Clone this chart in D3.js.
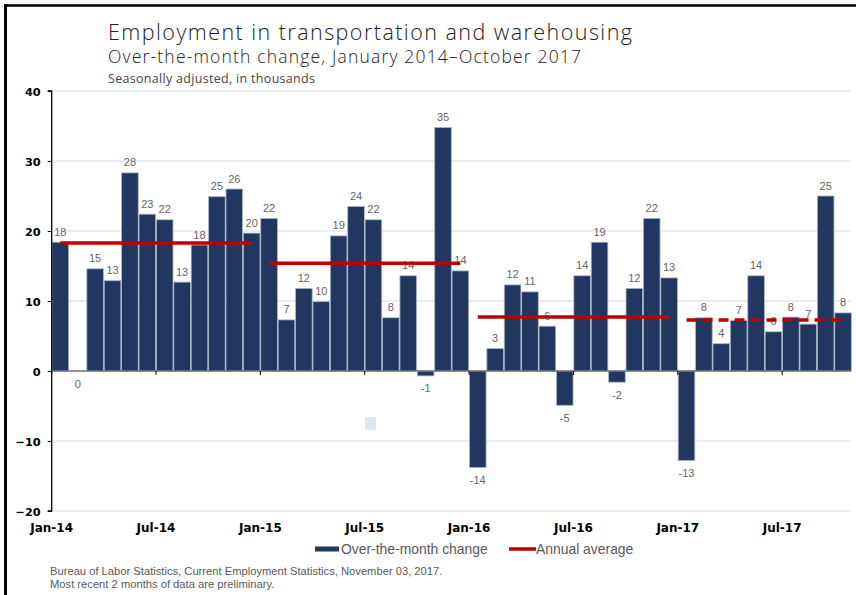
<!DOCTYPE html>
<html><head><meta charset="utf-8">
<script src="https://cdn.jsdelivr.net/npm/d3@7/dist/d3.min.js"></script>
<style>
html,body{margin:0;padding:0;background:#fff;}
svg{display:block;}
</style></head>
<body>
<svg id="chart" width="856" height="595"></svg>
<script>
// ---------- DATA ----------
const months = [
 "Jan-14","Feb-14","Mar-14","Apr-14","May-14","Jun-14","Jul-14","Aug-14","Sep-14","Oct-14","Nov-14","Dec-14",
 "Jan-15","Feb-15","Mar-15","Apr-15","May-15","Jun-15","Jul-15","Aug-15","Sep-15","Oct-15","Nov-15","Dec-15",
 "Jan-16","Feb-16","Mar-16","Apr-16","May-16","Jun-16","Jul-16","Aug-16","Sep-16","Oct-16","Nov-16","Dec-16",
 "Jan-17","Feb-17","Mar-17","Apr-17","May-17","Jun-17","Jul-17","Aug-17","Sep-17","Oct-17"
];
const monthlyChange = [
 18.4, 0, 14.6, 12.9, 28.3, 22.4, 21.6, 12.7, 18.0, 24.9, 26.0, 19.7,
 21.8, 7.3, 11.8, 9.9, 19.3, 23.5, 21.6, 7.6, 13.6, -0.7, 34.8, 14.3,
 -13.8, 3.2, 12.3, 11.3, 6.4, -4.9, 13.6, 18.4, -1.6, 11.8, 21.8, 13.3,
 -12.8, 7.6, 3.9, 7.2, 13.6, 5.6, 7.7, 6.7, 25.0, 8.3
];
const barLabels = [
 "18","0","15","13","28","23","22","13","18","25","26","20",
 "22","7","12","10","19","24","22","8","14","-1","35","14",
 "-14","3","12","11","6","-5","14","19","-2","12","22","13",
 "-13","8","4","7","14","6","8","7","25","8"
];
const annualYears = ["2014","2015","2016","2017"];
const annualStart = ["Jan-14","Jan-15","Jan-16","Jan-17"];
const annualEnd   = ["Dec-14","Dec-15","Dec-16","Oct-17"];
const annualAvg   = [18.3, 15.4, 7.7, 7.3];
const annualDashed = [false, false, false, true];
const xTickLabels = ["Jan-14","Jul-14","Jan-15","Jul-15","Jan-16","Jul-16","Jan-17","Jul-17"];
const yTicks = [-20, -10, 0, 10, 20, 30, 40];

const titleText = "Employment in transportation and warehousing";
const subtitleText = "Over-the-month change, January 2014\u2013October 2017";
const noteText = "Seasonally adjusted, in thousands";
const legendLabels = ["Over-the-month change", "Annual average"];
const sourceLines = ["Bureau of Labor Statistics, Current Employment Statistics, November 03, 2017.",
                     "Most recent 2 months of data are preliminary."];

// ---------- LAYOUT ----------
const svg = d3.select("#chart");
const plot = {left: 51.7, right: 851.7, top: 91, bottom: 511};
const navy = "#21375f", red = "#c00000", grey = "#595959";

const x = d3.scaleBand().domain(months).range([plot.left, plot.right]).paddingInner(0.045).paddingOuter(0.02);
const y = d3.scaleLinear().domain([-20, 40]).range([plot.bottom, plot.top]);
const bandStart = m => x(m) - x.step() * x.paddingInner() / 2;

// frame
svg.append("line").attr("x1", 5.5).attr("x2", 5.5).attr("y1", 4).attr("y2", 595).attr("stroke", "#000").attr("stroke-width", 3);
svg.append("line").attr("x1", 4).attr("x2", 856).attr("y1", 5.5).attr("y2", 5.5).attr("stroke", "#000").attr("stroke-width", 2.5);

// titles
const tfont = "'Open Sans', 'DejaVu Sans', sans-serif";
svg.append("text").attr("x", 108).attr("y", 40).text(titleText)
  .attr("font-family", tfont).attr("font-weight", 300).attr("font-size", 21.5).attr("fill", "#222")
  .attr("textLength", 524).attr("lengthAdjust", "spacing");
svg.append("text").attr("x", 108).attr("y", 63).text(subtitleText)
  .attr("font-family", tfont).attr("font-weight", 300).attr("font-size", 17.5).attr("fill", "#222")
  .attr("textLength", 473).attr("lengthAdjust", "spacing");
svg.append("text").attr("x", 108).attr("y", 83).text(noteText)
  .attr("font-family", tfont).attr("font-weight", 400).attr("font-size", 12.5).attr("fill", "#444")
  .attr("textLength", 207).attr("lengthAdjust", "spacing");

// gridlines
svg.append("g").selectAll("line").data(yTicks.filter(d => d !== 0)).join("line")
  .attr("x1", plot.left).attr("x2", 851).attr("y1", d => y(d)).attr("y2", d => y(d))
  .attr("stroke", "#dfe6f2").attr("stroke-width", 1.3);

// stray light square present in the reference
svg.append("rect").attr("x", 365).attr("y", 417).attr("width", 11).attr("height", 13).attr("fill", "#dde8f4");

// bars
svg.append("g").selectAll("rect").data(monthlyChange).join("rect")
  .attr("x", (d, i) => x(months[i]))
  .attr("width", x.bandwidth())
  .attr("y", d => y(Math.max(0, d)))
  .attr("height", d => Math.abs(y(d) - y(0)))
  .attr("fill", navy)
  .attr("stroke", "#a9b6c8").attr("stroke-width", 0.8);

// zero axis line
svg.append("line").attr("x1", plot.left).attr("x2", 851).attr("y1", y(0)).attr("y2", y(0))
  .attr("stroke", "#6e6e6e").attr("stroke-width", 1.5);
// x ticks at band starts
svg.append("g").selectAll("line").data(xTickLabels).join("line")
  .attr("x1", d => bandStart(d)).attr("x2", d => bandStart(d))
  .attr("y1", y(0)).attr("y2", y(0) + 4).attr("stroke", "#000").attr("stroke-width", 1);

// y axis
const yAxis = d3.axisLeft(y).tickValues(yTicks).tickSize(4).tickFormat(d3.format("d"));
const gy = svg.append("g").attr("transform", `translate(${plot.left},0)`).call(yAxis);
gy.select(".domain").attr("stroke", "#000").attr("stroke-width", 1.3).attr("d", `M-4,${y(40)}H0V${y(-20)}H-4`);
gy.selectAll(".tick line").attr("stroke", "#000");
gy.selectAll(".tick text").attr("font-family", "'DejaVu Sans', Verdana, sans-serif").attr("font-weight", "bold")
  .attr("font-size", 11.3).attr("fill", "#000").attr("x", -11).attr("dy", "0.36em");

// x labels
svg.append("g").selectAll("text").data(xTickLabels).join("text")
  .attr("x", d => bandStart(d)).attr("y", 531.5).attr("text-anchor", "middle").text(d => d)
  .attr("font-family", "'DejaVu Sans', Verdana, sans-serif").attr("font-weight", "bold")
  .attr("font-size", 12).attr("fill", "#000");

// bar labels
svg.append("g").selectAll("text").data(monthlyChange).join("text")
  .attr("x", (d, i) => x(months[i]) + x.bandwidth() / 2)
  .attr("y", d => d > 0 ? y(d) - 6.5 : y(Math.min(d, 0)) + 16.5)
  .attr("text-anchor", "middle").text((d, i) => barLabels[i])
  .attr("font-family", "'Liberation Sans', Arial, sans-serif").attr("font-size", 11).attr("fill", "#666");

// annual average lines
svg.append("g").selectAll("line").data(annualAvg).join("line")
  .attr("x1", (d, i) => x(annualStart[i]) + x.bandwidth() / 2)
  .attr("x2", (d, i) => x(annualEnd[i]) + x.bandwidth() / 2)
  .attr("y1", d => y(d)).attr("y2", d => y(d))
  .attr("stroke", red).attr("stroke-width", 3.5)
  .attr("stroke-dasharray", (d, i) => annualDashed[i] ? "10,6" : null);

// legend
const lf = "'Liberation Sans', Arial, sans-serif";
svg.append("rect").attr("x", 315).attr("y", 546.5).attr("width", 24).attr("height", 5).attr("fill", navy);
svg.append("text").attr("x", 341).attr("y", 553.5).text(legendLabels[0])
  .attr("font-family", lf).attr("font-size", 13.9).attr("fill", grey);
svg.append("line").attr("x1", 509).attr("x2", 536).attr("y1", 549).attr("y2", 549).attr("stroke", red).attr("stroke-width", 3.5);
svg.append("text").attr("x", 536).attr("y", 553.5).text(legendLabels[1])
  .attr("font-family", lf).attr("font-size", 13.9).attr("fill", grey);

// source
svg.append("g").selectAll("text").data(sourceLines).join("text")
  .attr("x", 50).attr("y", (d, i) => 575 + i * 13).text(d => d)
  .attr("font-family", lf).attr("font-size", 11.2).attr("fill", grey);
</script>
</body></html>
